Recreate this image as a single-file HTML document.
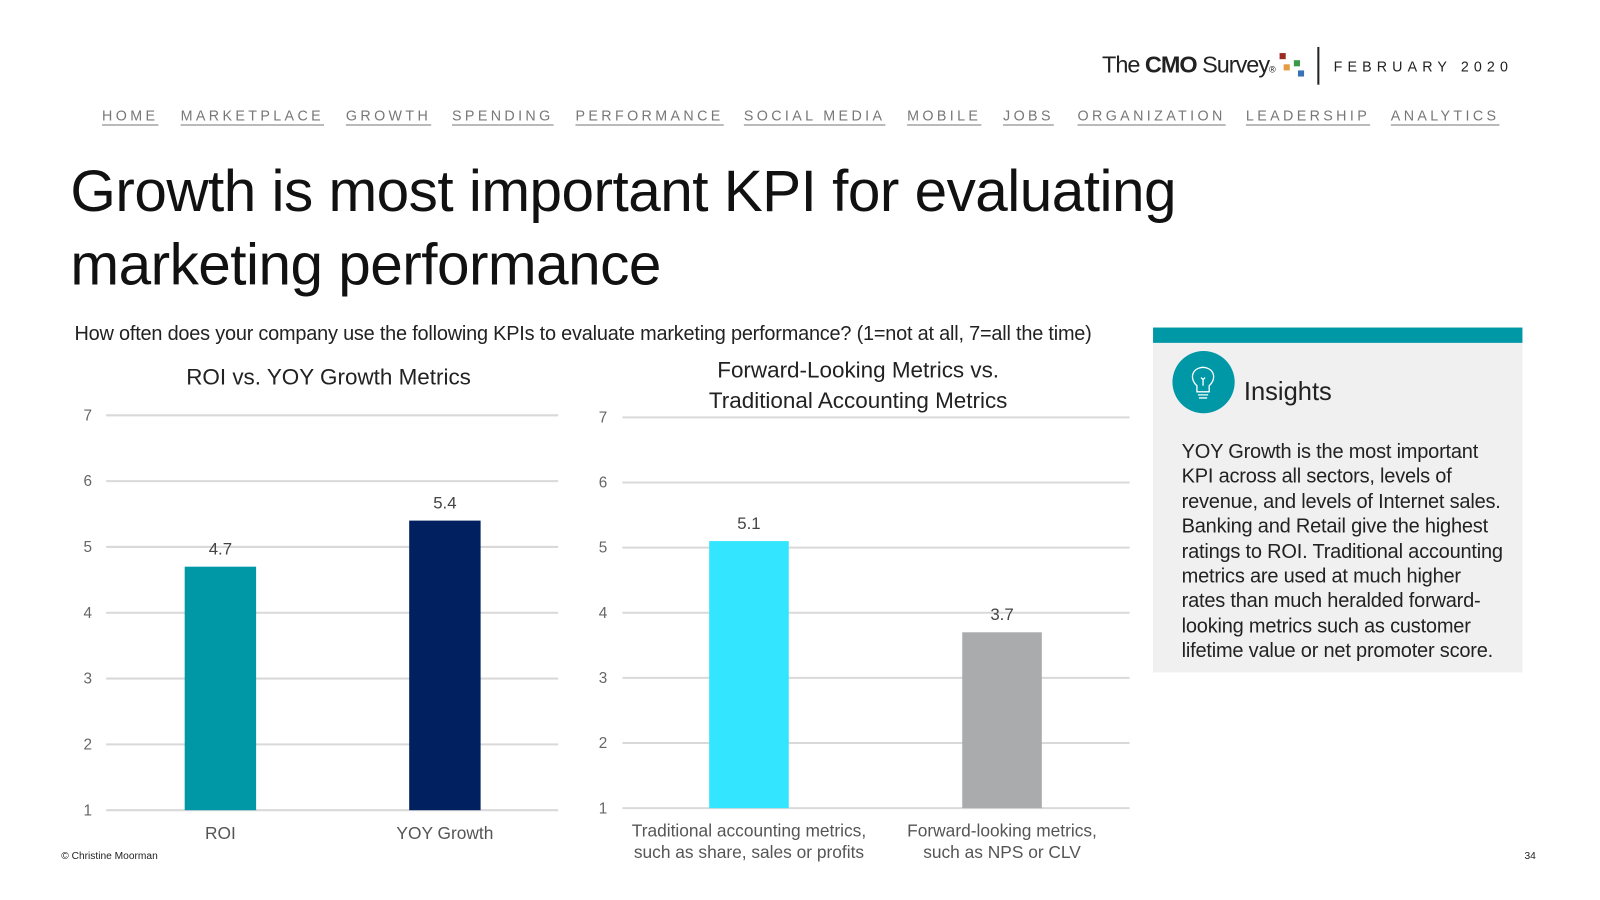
<!DOCTYPE html>
<html><head><meta charset="utf-8">
<style>
body{margin:0;width:1600px;height:900px;background:#fff;font-family:"Liberation Sans",sans-serif;position:relative;overflow:hidden}
#wrap{position:absolute;left:0;top:0;width:1568px;height:882px;transform:scale(1.0204);transform-origin:0 0}
.abs{position:absolute}
.nav a{color:#777;text-decoration:underline;text-underline-offset:4px;letter-spacing:3.3px;font-size:14px;margin-right:0}
</style></head><body>
<div id="wrap">
<div class="abs" style="left:1080px;top:50px;font-size:23px;letter-spacing:-1px;color:#222">The <b>CMO</b> Survey<span style="font-size:9px">®</span>
<span style="position:absolute;left:174px;top:2px;width:6px;height:6px;background:#9b2a22"></span>
<span style="position:absolute;left:178px;top:13px;width:6px;height:6px;background:#e59b44"></span>
<span style="position:absolute;left:188px;top:9px;width:6px;height:6px;background:#3a9a4a"></span>
<span style="position:absolute;left:192px;top:19px;width:6px;height:6px;background:#3a72b8"></span></div>
<div class="abs" style="left:1291px;top:46px;width:2px;height:37px;background:#222"></div>
<div class="abs" style="left:1307px;top:57px;font-size:14px;letter-spacing:5px;color:#222">FEBRUARY 2020</div>
<div class="abs nav" style="left:100px;top:105px;white-space:nowrap;word-spacing:0">
<a class="abs" style="left:0">HOME</a>
<a class="abs" style="left:77px">MARKETPLACE</a>
<a class="abs" style="left:239px">GROWTH</a>
<a class="abs" style="left:343px">SPENDING</a>
<a class="abs" style="left:464px">PERFORMANCE</a>
<a class="abs" style="left:629px">SOCIAL MEDIA</a>
<a class="abs" style="left:789px">MOBILE</a>
<a class="abs" style="left:883px">JOBS</a>
<a class="abs" style="left:956px">ORGANIZATION</a>
<a class="abs" style="left:1121px">LEADERSHIP</a>
<a class="abs" style="left:1263px">ANALYTICS</a>
</div>
<div class="abs" style="left:69px;top:152px;font-size:57.3px;line-height:72px;color:#111;letter-spacing:-0.5px;white-space:nowrap">Growth is most important KPI for evaluating<br>marketing performance</div>
<div class="abs" style="left:73px;top:316px;font-size:19.5px;color:#222;letter-spacing:-0.2px;white-space:nowrap">How often does your company use the following KPIs to evaluate marketing performance? (1=not at all, 7=all the time)</div>
<div class="abs" style="left:1130px;top:321px;width:362px;height:338px;background:#f0f0f0;border-top:15px solid #0097a7;box-sizing:border-box">
<div class="abs" style="left:19px;top:8px;width:61px;height:61px;border-radius:50%;background:#0097a7">
<svg width="61" height="61"><g fill="none" stroke="#fff" stroke-width="1.3"><path d="M24 34 C17 28 18 17 30 16 C42 17 43 28 36 34 L36 40 L24 40 Z"/><path d="M25 43 H35 M26 46 H34 M30 34 V27 M28 26 L30 28 L32 26"/></g></svg></div>
<div class="abs" style="left:89px;top:34px;font-size:25px;color:#222">Insights</div>
<div class="abs" style="left:28px;top:95px;width:316px;font-size:19.6px;line-height:24.4px;color:#222;letter-spacing:-0.2px">YOY Growth is the most important KPI across all sectors, levels of revenue, and levels of Internet sales. Banking and Retail give the highest ratings to ROI. Traditional accounting metrics are used at much higher rates than much heralded forward-looking metrics such as customer lifetime value or net promoter score.</div>
</div>
<div class="abs" style="left:60px;top:834px;font-size:10px;color:#222">© Christine Moorman</div>
<div class="abs" style="left:1494px;top:834px;font-size:10px;color:#222">34</div>
<svg id="charts" class="abs" style="left:0;top:0" width="1568" height="882" font-family="Liberation Sans, sans-serif"></svg>
</div>
<script>
const c1Categories=["ROI","YOY Growth"];
const c1Values=[4.7,5.4];
const c2Categories=[["Traditional accounting metrics,","such as share, sales or profits"],["Forward-looking metrics,","such as NPS or CLV"]];
const c2Values=[5.1,3.7];
const yTicks=[1,2,3,4,5,6,7];
const NS="http://www.w3.org/2000/svg";
const svg=document.getElementById('charts');
function mk(t,a,txt){const e=document.createElementNS(NS,t);for(const k in a)e.setAttribute(k,a[k]);if(txt!=null)e.textContent=txt;svg.appendChild(e);return e;}
function draw(cfg){
  const y=v=>cfg.y1+(v-1)*(cfg.y7-cfg.y1)/6;
  yTicks.forEach(t=>{
    const g=mk('line',{x1:cfg.gx0,x2:cfg.gx1,y1:y(t),y2:y(t),stroke:'#d9d9d9','stroke-width':2});
    
    
    const l=mk('text',{x:cfg.tx,y:y(t)+5,'font-size':15,fill:'#666','text-anchor':'middle'},t);
    
    
  });
  cfg.vals.forEach((v,i)=>{
    const cx=cfg.cx[i];
    const b=mk('rect',{x:cx-cfg.bw/2,y:y(v),width:cfg.bw,height:y(1)-y(v),fill:cfg.colors[i]});
    
    
    const vl=mk('text',{x:cx,y:y(v)-12,'font-size':16.5,fill:'#444','text-anchor':'middle'},v.toFixed(1));
    
    
    const cat=[].concat(cfg.cats[i]);
    cat.forEach((s,j)=>{
      const cl=mk('text',{x:cx,y:cfg.y1+28+j*21,'font-size':17,fill:'#555','text-anchor':'middle'},s);
      
      
    });
  });
  cfg.title.forEach((s,j)=>{
    const t=mk('text',{x:cfg.titleX,y:cfg.titleY+j*30,'font-size':22,fill:'#222','text-anchor':'middle'},s);
    
    
  });
}
draw({vals:c1Values,cats:c1Categories,y1:794,y7:407,gx0:104,gx1:547,tx:86,cx:[216,436],bw:70,colors:['#0097a7','#002060'],title:["ROI vs. YOY Growth Metrics"],titleX:322,titleY:377});
draw({vals:c2Values,cats:c2Categories,y1:792,y7:409,gx0:610,gx1:1107,tx:591,cx:[734,982],bw:78,colors:['#33e5ff','#aaabad'],title:["Forward-Looking Metrics vs.","Traditional Accounting Metrics"],titleX:841,titleY:370});
</script>
</body></html>
